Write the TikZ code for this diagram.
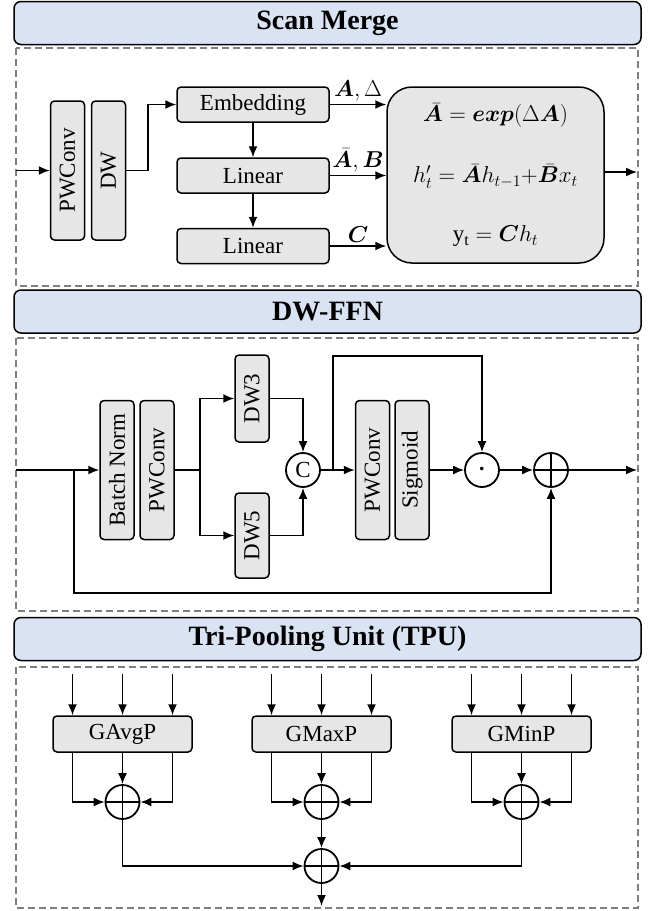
\RequirePackage{fix-cm}
\documentclass[tikz,border=0pt]{standalone}
\usepackage{fontspec}
\setmainfont{Liberation Serif}
\usepackage{bm}
\usetikzlibrary{arrows.meta,positioning,calc}
\definecolor{hdrblue}{HTML}{DAE3F3}
\definecolor{boxgray}{HTML}{E7E6E6}
\definecolor{dashgray}{HTML}{7F7F7F}
\tikzset{
  hdr/.style={draw, fill=hdrblue, rounded corners=7pt, line width=1.5pt,
    minimum width=627pt, minimum height=43pt, font=\fontsize{28}{32}\selectfont\bfseries},
  blk/.style={draw, fill=boxgray, rounded corners=4pt, line width=1.5pt, inner sep=0pt,
    font=\fontsize{23}{26}\selectfont},
  vblk/.style={blk, rotate=90, minimum width=139pt, minimum height=34pt},
  hblk/.style={blk, minimum width=152pt, minimum height=35pt},
  pblk/.style={blk, minimum width=139pt, minimum height=36pt},
  frame/.style={draw=dashgray, line width=1.8pt, dash pattern=on 7pt off 4pt},
  arr/.style={-{Latex[length=11pt,width=9pt]}, line width=1.6pt},
  ln/.style={line width=1.6pt},
  opc/.style={circle, draw, line width=1.8pt, minimum size=34pt, inner sep=0pt,
    font=\fontsize{23}{26}\selectfont},
  oplus/.style={opc, path picture={
    \draw[line width=1.8pt] (path picture bounding box.north) -- (path picture bounding box.south)
      (path picture bounding box.west) -- (path picture bounding box.east);}},
  eq/.style={font=\fontsize{23}{26}\selectfont, inner sep=1pt},
}
\begin{document}
\begin{tikzpicture}[x=1pt, y=-1pt]
    \useasboundingbox (0,0) rectangle (654,911);
    % dashed frames
    \draw[frame] (16,48) rectangle (638,286);
    \draw[frame] (16,338) rectangle (638,611);
    \draw[frame] (16,667) rectangle (638,908);
    % headers
    \node[hdr] (hdr1) at (327.5,23) {Scan Merge};
    \node[hdr] (hdr2) at (327.5,311.5) {DW-FFN};
    \node[hdr] (hdr3) at (327.5,639) {Tri-Pooling Unit (TPU)};

    % ---- Scan Merge ----
    \coordinate (in1) at (16,170.5);
    \coordinate (out1) at (637,172);
    \node[vblk] (pw1) at (67.5,170.5) {PWConv};
    \node[vblk] (dw1) at (108.5,170.5) {DW};
    \node[hblk] (emb) at (253,104.5) {Embedding};
    \node[hblk] (lin1) at (253,175.5) {Linear};
    \node[hblk] (lin2) at (253,246) {Linear};
    \node[draw, fill=boxgray, rounded corners=25pt, line width=1.5pt,
      minimum width=217pt, minimum height=176pt, align=center,
      font=\fontsize{23}{26}\selectfont] (ssm) at (495.5,175)
      {$\bm{\bar{A}} = \bm{exp}(\Delta\bm{A})$\\[35pt]
       $h'_t = \bm{\bar{A}}h_{t-1}{+}\bm{\bar{B}}x_t$\\[33pt]
       $\mathrm{y}_{\mathrm{t}} = \bm{C}h_t$};
    \draw[arr] (in1) -- (pw1.north);
    \draw[arr] (dw1.south) -- ++(22,0) |- (emb.west);
    \draw[arr] (emb.south) -- (lin1.north);
    \draw[arr] (lin1.south) -- (lin2.north);
    \draw[arr] (emb.east) -- (ssm.west |- emb.east)
      node[eq, midway, above=2pt] (lab1) {$\bm{A},\Delta$};
    \draw[arr] (lin1.east) -- (ssm.west |- lin1.east)
      node[eq, midway, above=2pt] (lab2) {$\bm{\bar{A}},\bm{B}$};
    \draw[arr] (lin2.east) -- (ssm.west |- lin2.east)
      node[eq, midway, above=2pt] (lab3) {$\bm{C}$};
    \draw[arr] (ssm.east |- out1) -- (out1);

    % ---- DW-FFN ----
    \coordinate (in2) at (16,470);
    \coordinate (s1) at (74,470);
    \coordinate (bot) at (74,593);
    \coordinate (out2) at (637,470);
    \node[vblk] (bn) at (117,470) {Batch Norm};
    \node[vblk] (pw2) at (157,470) {PWConv};
    \node[vblk, minimum width=87pt] (dw3) at (252,398.5) {DW3};
    \node[vblk, minimum width=85pt] (dw5) at (252,535.5) {DW5};
    \node[opc] (cat) at (303,470) {C};
    \node[vblk] (pwc) at (372.5,470) {PWConv};
    \node[vblk] (sig) at (412,470) {Sigmoid};
    \node[opc] (dot) at (482,470) {\fontsize{34}{34}\selectfont$\cdot$};
    \node[oplus] (plus) at (551,470) {};
    \draw[arr] (in2) -- (bn.north);
    \draw[ln] (pw2.south) -- ++(25,0) coordinate (sp);
    \draw[arr] (sp) |- (dw3.north);
    \draw[arr] (sp) |- (dw5.north);
    \draw[arr] (dw3.south) -| (cat.north);
    \draw[arr] (dw5.south) -| (cat.south);
    \draw[arr] (cat.east) -- (pwc.north);
    \coordinate (tap) at ($(cat.east)+(12,0)$);
    \coordinate (byp) at ($(tap)+(0,-114)$);
    \draw[arr] (tap) -- (byp) -| (dot.north);
    \draw[arr] (sig.south) -- (dot.west);
    \draw[arr] (dot.east) -- (plus.west);
    \draw[arr] (plus.east) -- (out2);
    \draw[arr] (s1) -- (bot) -| (plus.south);

    % ---- Tri-Pooling Unit ----
    \node[oplus] (fin) at (321.5,866) {};
    \coordinate (out3) at (321.5,906);
    \foreach \name/\lbl/\x in {avg/GAvgP/122.5, max/GMaxP/321.5, min/GMinP/521.5} {
        \node[pblk] (p\name) at (\x,734) {\lbl};
        \node[oplus] (s\name) at (\x,802) {};
        \foreach \dx in {-50,0,50}
            \draw[arr] ($(p\name.north)+(\dx,-41)$) -- ($(p\name.north)+(\dx,0)$);
        \draw[arr] (p\name.south) -- (s\name.north);
        \draw[arr] ($(p\name.south)+(-50,0)$) |- (s\name.west);
        \draw[arr] ($(p\name.south)+(50,0)$) |- (s\name.east);
    }
    \draw[arr] (savg.south) |- (fin.west);
    \draw[arr] (smin.south) |- (fin.east);
    \draw[arr] (smax.south) -- (fin.north);
    \draw[arr] (fin.south) -- (out3);
\end{tikzpicture}
\end{document}
